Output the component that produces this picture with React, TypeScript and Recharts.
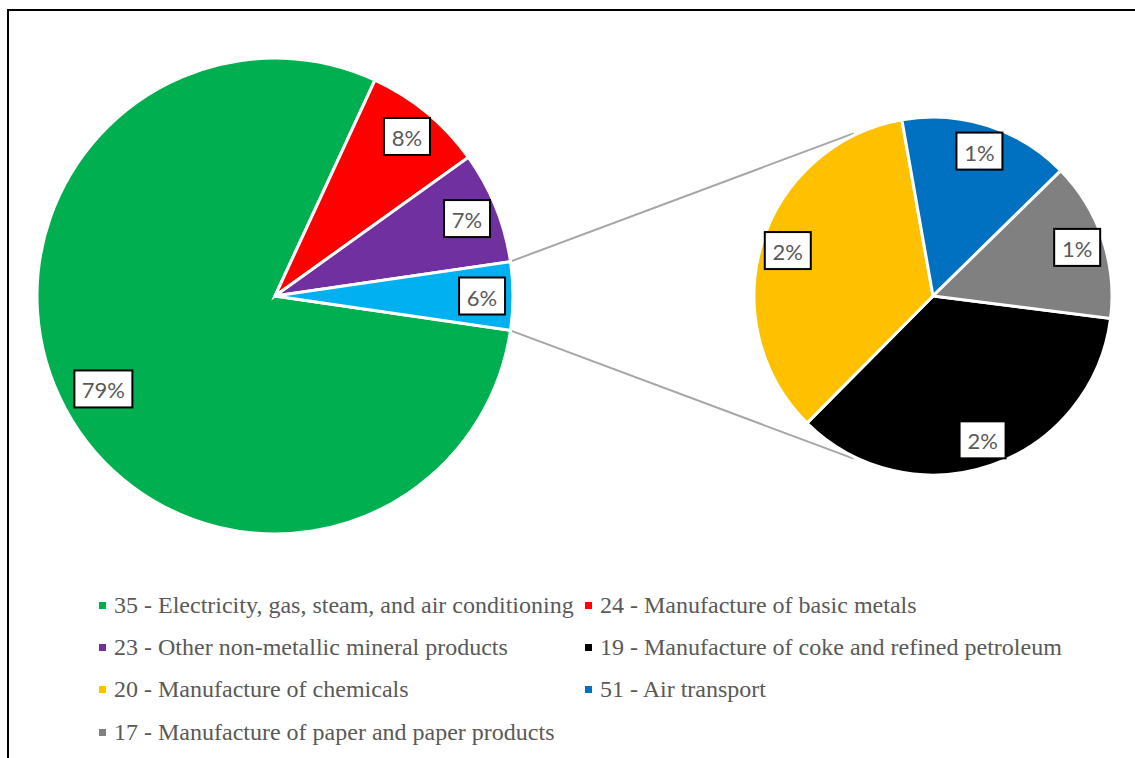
import { PieChart, Pie, Cell, Legend, Customized } from "recharts";

const mainNames = [
  "35 - Electricity, gas, steam, and air conditioning",
  "24 - Manufacture of basic metals",
  "23 - Other non-metallic mineral products",
];
const mainValues = [79.6, 8.2, 7.6];
const mainLabels = ["79%", "8%", "7%"];
const mainColors = ["#00B050", "#FF0000", "#7030A0"];

const otherLabel = "6%";
const otherColor = "#00B0F0";

const subNames = [
  "19 - Manufacture of coke and refined petroleum",
  "20 - Manufacture of chemicals",
  "51 - Air transport",
  "17 - Manufacture of paper and paper products",
];
const subValues = [1.63, 1.6, 0.71, 0.66];
const subLabels = ["2%", "2%", "1%", "1%"];
const subColors = ["#000000", "#FFC000", "#0070C0", "#808080"];

const otherValue = subValues.reduce((a, b) => a + b, 0);

const mainData = [
  ...mainNames.map((name, i) => ({ name, value: mainValues[i], label: mainLabels[i], color: mainColors[i] })),
  { name: "Other", value: otherValue, label: otherLabel, color: otherColor },
];
const subData = subNames.map((name, i) => ({ name, value: subValues[i], label: subLabels[i], color: subColors[i] }));

const legendItems = [
  ...mainNames.map((name, i) => ({ name, color: mainColors[i] })),
  ...subNames.map((name, i) => ({ name, color: subColors[i] })),
];

const RAD = Math.PI / 180;
const MAIN = { cx: 275, cy: 296, r: 238 };
const SUB = { cx: 933, cy: 296, r: 179 };

const mainTotal = mainData.reduce((a, d) => a + d.value, 0);
const otherHalf = (otherValue / mainTotal) * 180;
const mainStart = 360 - otherHalf;
const subStart = 352.8;

// excel "best fit": big slices get their label pulled a bit further in
const renderLabel = (factor: number) => (props: any) => {
  const { cx, cy, midAngle, outerRadius, payload, percent } = props;
  const r = outerRadius * (percent > 0.5 ? factor - 0.05 : factor);
  const x = cx + r * Math.cos(-midAngle * RAD);
  const y = cy + r * Math.sin(-midAngle * RAD);
  const text: string = payload.label;
  const w = 22 + 12 * text.length;
  const h = 37;
  return (
    <g>
      <rect x={x - w / 2} y={y - h / 2} width={w} height={h} fill="#fff" stroke="#000" strokeWidth={2} />
      <text x={x} y={y + 1} textAnchor="middle" dominantBaseline="central" fill="#595959" fontFamily="Lato" fontSize={22}>
        {text}
      </text>
    </g>
  );
};

// lines from the edges of the "other" slice to the second pie
function Connectors() {
  const endAngle = 116;
  const pts = [1, -1].map((s) => {
    const a = s * otherHalf * RAD;
    const b = s * endAngle * RAD;
    return {
      x1: MAIN.cx + (MAIN.r - 1) * Math.cos(a),
      y1: MAIN.cy - (MAIN.r - 1) * Math.sin(a),
      x2: SUB.cx + (SUB.r + 2) * Math.cos(b),
      y2: SUB.cy - (SUB.r + 2) * Math.sin(b),
    };
  });
  return (
    <g>
      {pts.map((p, i) => (
        <line key={i} {...p} stroke="#A6A6A6" strokeWidth={2} />
      ))}
    </g>
  );
}

function LegendGrid() {
  return (
    <div
      style={{
        display: "grid",
        gridTemplateColumns: "486px 486px",
        fontFamily: "'Liberation Serif', 'Times New Roman', serif",
        fontSize: 24,
        color: "#595959",
      }}
    >
      {legendItems.map((item) => (
        <div key={item.name} style={{ display: "flex", alignItems: "center", height: 42.4, whiteSpace: "nowrap" }}>
          <span style={{ width: 7, height: 7, background: item.color, marginRight: 8, flex: "none" }} />
          <span>{item.name}</span>
        </div>
      ))}
    </div>
  );
}

export default function App() {
  return (
    <div style={{ position: "relative", width: 1135, height: 758, overflow: "hidden", background: "#fff" }}>
      <style>{"body{margin:0;overflow:hidden}"}</style>
      <div
        style={{
          position: "absolute",
          left: 7,
          top: 9,
          width: 1150,
          height: 800,
          border: "2px solid #000",
          boxSizing: "border-box",
        }}
      />
      <div style={{ position: "absolute", left: 0, top: 0 }}>
        <PieChart width={1135} height={758} margin={{ top: 0, right: 0, bottom: 0, left: 0 }}>
          <Customized component={<Connectors />} />
          <Pie
            data={mainData}
            dataKey="value"
            nameKey="name"
            cx={MAIN.cx}
            cy={MAIN.cy}
            outerRadius={MAIN.r}
            startAngle={mainStart}
            endAngle={mainStart - 360}
            stroke="#fff"
            strokeWidth={3}
            label={renderLabel(0.87)}
            labelLine={false}
            isAnimationActive={false}
          >
            {mainData.map((d) => (
              <Cell key={d.name} fill={d.color} />
            ))}
          </Pie>
          <Pie
            data={subData}
            dataKey="value"
            nameKey="name"
            cx={SUB.cx}
            cy={SUB.cy}
            outerRadius={SUB.r}
            startAngle={subStart}
            endAngle={subStart - 360}
            stroke="#fff"
            strokeWidth={3}
            label={renderLabel(0.85)}
            labelLine={false}
            isAnimationActive={false}
          >
            {subData.map((d) => (
              <Cell key={d.name} fill={d.color} />
            ))}
          </Pie>
          <Legend
            verticalAlign="bottom"
            content={() => <LegendGrid />}
            wrapperStyle={{ left: 99, top: 584, width: 1000, bottom: "auto" }}
          />
        </PieChart>
      </div>
    </div>
  );
}
